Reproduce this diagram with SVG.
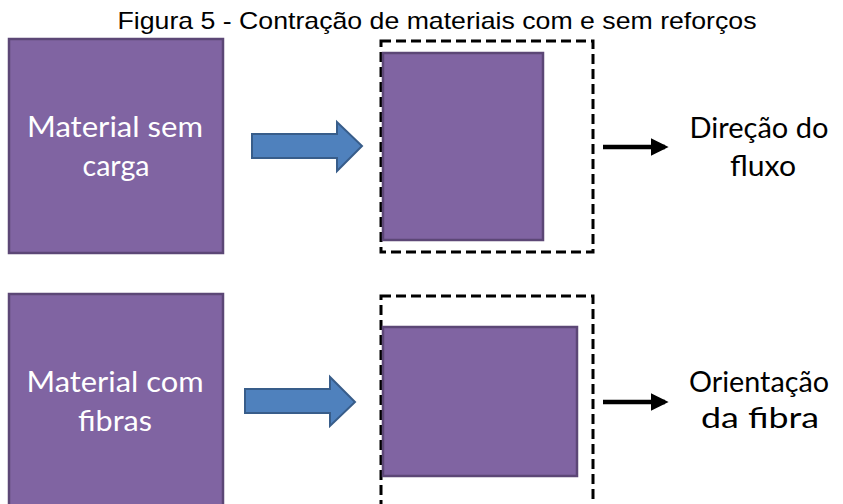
<svg xmlns="http://www.w3.org/2000/svg" width="843" height="504" viewBox="0 0 843 504">
<style>
.mat{fill:#8064A2;stroke:#5C4776;stroke-width:2.5}
.dash{fill:none;stroke:#000;stroke-width:3;stroke-dasharray:10 5}
.blk{fill:#4F81BD;stroke:#385D8A;stroke-width:2;stroke-linejoin:miter}
.ln{stroke:#000;stroke-width:4.5;fill:none}
.wt{font-family:Lato,"Open Sans","Liberation Sans",sans-serif;font-size:29px;fill:#fff;text-anchor:middle}
.bk{font-family:Lato,"Open Sans","Liberation Sans",sans-serif;font-size:29px;fill:#000;text-anchor:middle}
.title{font-family:"Liberation Sans",Arial,sans-serif;font-size:24px;fill:#000;text-anchor:middle}
</style>
<defs>
<marker id="ah" markerWidth="4" markerHeight="4" refX="3.2" refY="2" orient="auto" markerUnits="strokeWidth">
<path d="M0,0 L4,2 L0,4 Z" fill="#000"/>
</marker>
</defs>
<rect width="843" height="504" fill="#fff"/>
<text class="title" x="437" y="29" textLength="639" lengthAdjust="spacingAndGlyphs">Figura 5 - Contração de materiais com e sem reforços</text>

<g id="material-sem-carga">
<rect class="mat" x="9" y="39" width="214" height="214"/>
<text class="wt" x="115" y="137" textLength="176" lengthAdjust="spacingAndGlyphs">Material sem</text>
<text class="wt" x="116" y="176" textLength="67" lengthAdjust="spacingAndGlyphs">carga</text>
</g>

<g id="contraido-1">
<rect class="dash" x="381" y="41" width="212" height="211"/>
<rect class="mat" x="383" y="53" width="160" height="187"/>
</g>

<g id="direcao-fluxo">
<text class="bk" x="759" y="138" textLength="139" lengthAdjust="spacingAndGlyphs">Direção do</text>
<text class="bk" x="763" y="176" textLength="66" lengthAdjust="spacingAndGlyphs">fluxo</text>
</g>

<g id="material-com-fibras">
<rect class="mat" x="9" y="294" width="214" height="240"/>
<text class="wt" x="115" y="392" textLength="177" lengthAdjust="spacingAndGlyphs">Material com</text>
<text class="wt" x="115" y="431" textLength="74" lengthAdjust="spacingAndGlyphs">fibras</text>
</g>

<g id="contraido-2">
<rect class="dash" x="381" y="296" width="212" height="240"/>
<rect class="mat" x="383" y="327" width="194" height="149"/>
</g>

<g id="orientacao-fibra">
<text class="bk" x="759" y="392" textLength="140" lengthAdjust="spacingAndGlyphs">Orientação</text>
<text class="bk" x="760" y="428" textLength="118" lengthAdjust="spacingAndGlyphs">da fibra</text>
</g>

<g id="connectors">
<path class="blk" d="M252,134 H337 V122 L362,146 L337,171 V158 H252 Z"/>
<path class="blk" d="M245,389 H330 V377 L355,402 L330,426 V413 H245 Z"/>
<line class="ln" x1="603" y1="147" x2="665" y2="147" marker-end="url(#ah)"/>
<line class="ln" x1="603" y1="402" x2="665" y2="402" marker-end="url(#ah)"/>
</g>
</svg>
